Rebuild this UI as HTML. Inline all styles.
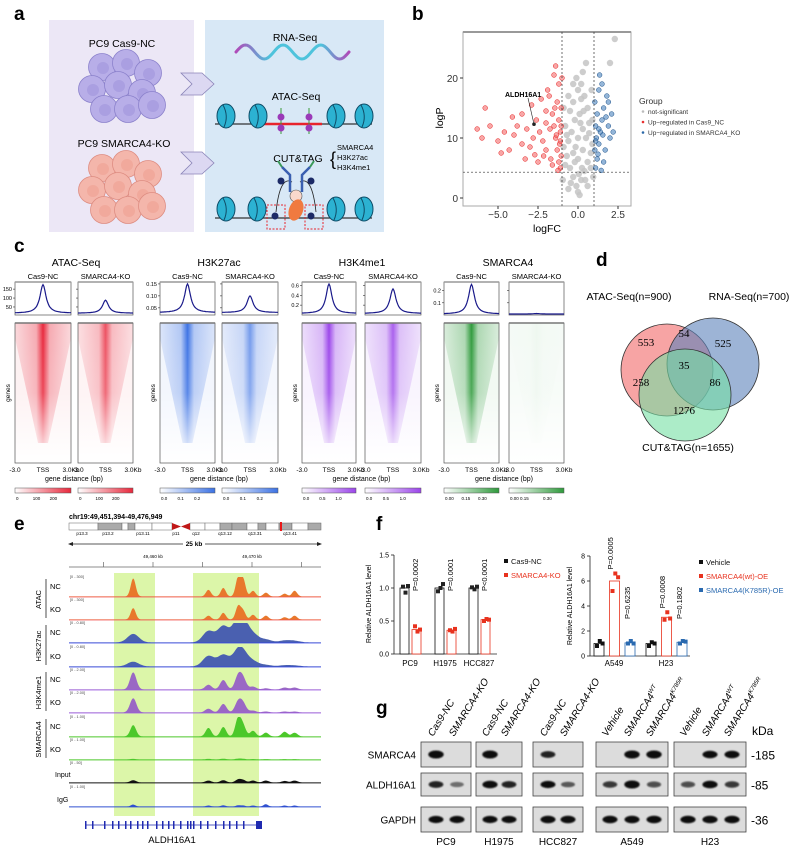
<!DOCTYPE html>
<html><head><meta charset="utf-8"><style>
html,body{margin:0;padding:0;background:#fff;}
svg{display:block;font-family:"Liberation Sans",sans-serif;}
</style></head><body>
<svg id="fig" width="798" height="847" viewBox="0 0 798 847" xmlns="http://www.w3.org/2000/svg">
<defs>
<linearGradient id="waveg" x1="0" x2="1" y1="0" y2="0"><stop offset="0" stop-color="#b04ab8"/><stop offset="0.3" stop-color="#4ec3dc"/><stop offset="0.75" stop-color="#4ec3dc"/><stop offset="1" stop-color="#b04ab8"/></linearGradient>
<linearGradient id="fadev" x1="0" x2="0" y1="0" y2="1"><stop offset="0" stop-color="#fff" stop-opacity="0"/><stop offset="0.5" stop-color="#fff" stop-opacity="0.15"/><stop offset="1" stop-color="#fff" stop-opacity="1"/></linearGradient>
<filter id="blur1" x="-50%" y="-50%" width="200%" height="200%"><feGaussianBlur stdDeviation="0.9"/></filter>
</defs>

<g>
<text x="14" y="20" font-size="19" font-weight="bold">a</text>
<rect x="49" y="20" width="145" height="212" fill="#ece7f6"/>
<rect x="205" y="20" width="179" height="212" fill="#d8e8f6"/>
<text x="122" y="47" font-size="10.5" text-anchor="middle">PC9 Cas9-NC</text>
<text x="124" y="147" font-size="10.5" text-anchor="middle">PC9 SMARCA4-KO</text>
<g id="cellsNC"></g>
<g id="cellsKO"></g>
<polygon points="181,73 202,73 214,84 202,95 181,95 192,84" fill="#dcd8f2" stroke="#8a84b8" stroke-width="0.8"/>
<polygon points="181,152 202,152 214,163 202,174 181,174 192,163" fill="#dcd8f2" stroke="#8a84b8" stroke-width="0.8"/>
<text x="295" y="41" font-size="10.5" text-anchor="middle">RNA-Seq</text>
<path id="wave" d="" fill="none" stroke="url(#waveg)" stroke-width="3" stroke-linecap="round"/>
<text x="296" y="100" font-size="10.5" text-anchor="middle">ATAC-Seq</text>
<g id="atacDiag"></g>
<text x="298" y="162" font-size="10.5" text-anchor="middle">CUT&amp;TAG</text>
<text x="330" y="165" font-size="18" font-weight="200">{</text>
<text x="337" y="150" font-size="7.5">SMARCA4</text>
<text x="337" y="160" font-size="7.5">H3K27ac</text>
<text x="337" y="170" font-size="7.5">H3K4me1</text>
<g id="cutDiag"></g>
</g>

<g id="panelB">
<text x="412" y="20" font-size="19" font-weight="bold">b</text>
</g>
<g id="panelC">
<text x="14" y="252" font-size="19" font-weight="bold">c</text>
</g>
<g id="panelD">
<text x="596" y="266" font-size="19" font-weight="bold">d</text>
</g>
<g id="panelE">
<text x="14" y="530" font-size="19" font-weight="bold">e</text>
</g>
<g id="panelF">
<text x="376" y="530" font-size="19" font-weight="bold">f</text>
</g>
<g id="panelG">
<text x="376" y="714" font-size="19" font-weight="bold">g</text>
</g>
</svg>

<script>
const grayFC=[0,0.1,-0.1,0.2,-0.3,0.4,-0.5,0.6,-0.7,0.8,-0.9,0.9,-0.6,0.5,-0.4,0.3,-0.8,0.7,-0.2,0.1,-0.5,0.6,-0.3,0.4,0,0.2,-0.1,0.3,0.5,2.3,2.0,-0.95,0.95,-0.6,0.6,0.3,-0.3,0.8,-0.8,0,0,0.15,-0.6,0.9,-0.9,0.2,-0.3,0.85,0.45,-0.45,0.05,-0.2,0.25,-0.7,0.7,-0.15,0.35];
const grayP=[1,0.5,2,3,3.5,4.5,5,6,7,7.5,8.5,9,9.5,10,11,11.5,12,12.5,13,14,14.5,15,16,17,18,19,20,21,22.5,26.5,22.5,3,3.5,1.5,2,8,7.5,5,5.5,6.5,10,12.5,17,13,15,16.5,19,18,3,2.5,4,6,5,10.5,10.8,8.5,14.5];
const redFC=[-1.1,-1.2,-1.05,-1.3,-1.15,-1.4,-1.1,-1.5,-1.2,-1.6,-1.05,-1.3,-1.8,-1.2,-1.0,-1.7,-2.0,-2.2,-2.4,-2.0,-2.6,-2.8,-3.0,-3.2,-3.5,-3.8,-4.0,-4.3,-4.6,-5.0,-5.5,-6.0,-6.3,-5.8,-3.5,-2.9,-2.3,-1.9,-1.5,-1.6,-2.5,-3.3,-4.8,-1.4,-2.0,-1.25,-2.7,-4.1,-1.1,-1.35,-1.75,-2.15,-1.05,-1.45];
const redP=[5,6,7,8,9,10,11,12,13,14,15,16,17,19,20,6.5,8,9.5,11,12.5,13,10,8.5,11.5,9,12,10.5,8,11,9.5,12,10,11.5,15,14,15.5,16.5,18,20.5,5.5,6,6.5,7.5,22,14.5,4.6,7.2,13.5,9.5,10.5,11.5,7,12,15];
const blueFC=[1.1,1.2,1.05,1.3,1.15,1.4,1.1,1.5,1.2,1.6,1.05,1.8,1.3,1.9,2.0,1.7,2.1,1.5,1.35,1.9,2.2,1.6,1.25,1.45,1.75,1.1,1.3,1.55];
const blueP=[5,6.5,8,9,10,11,12,13,14,15,16,17,18,12,10,8,14,19,20.5,16,11,6,7.3,4.6,13.5,9.5,11.5,10.5];
const xTicksB=[-5.0,-2.5,0.0,2.5];
const yTicksB=[0,10,20];
const labelGene={fc:-2.75,p:12.3,name:"ALDH16A1"};

const marks=["ATAC-Seq","H3K27ac","H3K4me1","SMARCA4"];
const profilePeakNC=[175,0.15,0.63,0.25];
const profilePeakKO=[88,0.10,0.53,0.012];
const profileBase=[15,0.03,0.03,0.008];
const profileDomain=[[5,190],[0.02,0.158],[0,0.67],[0,0.27]];
const profileTicks=[["50","100","150"],["0.05","0.10","0.15"],["0.2","0.4","0.6"],["0.1","0.2"]];
const heatIntensityKO=[0.8,0.7,0.85,0.04];
const cbarTicks=[["0","100","200"],["0.0","0.1","0.2"],["0.0","0.5","1.0"],["0.00","0.15","0.30"]];
const cbarTicksKO=[["0","100","200"],["0.0","0.1","0.2"],["0.0","0.5","1.0"],["0.00 0.15","","0.30"]];

const vennCounts=[553,54,525,35,258,86,1276];

const peakKb=[49458.0,49465.6,49467.1,49468.6,49469.1,49470.1,49471.4,49473.3,49474.3];
const trackRanges=["[0 - 300]","[0 - 300]","[0 - 0.80]","[0 - 0.80]","[0 - 2.00]","[0 - 2.00]","[0 - 1.00]","[0 - 1.00]","[0 - 50]","[0 - 1.00]"];
const tATACnc=[0.95,0.35,0.45,1.0,0.9,0.3,0.2,0.15,0.3];
const tATACko=[0.6,0.2,0.35,0.7,0.45,0.25,0.2,0.12,0.2];
const tK27nc=[0.45,0.6,0.85,1.0,0.75,0.4,0.15,0.1,0.08];
const tK27ko=[0.25,0.55,0.6,0.7,0.45,0.25,0.08,0.06,0.05];
const tK4nc=[0.9,0.25,0.5,0.7,0.55,0.15,0.06,0.1,0.1];
const tK4ko=[0.75,0.2,0.45,0.55,0.45,0.1,0.05,0.05,0.05];
const tSMnc=[0.6,0.45,0.5,0.95,0.55,0.3,0.2,0.25,0.2];
const tSMko=[0.03,0.03,0.04,0.04,0.03,0.02,0.02,0.02,0.02];
const tInput=[0.12,0.1,0.12,0.15,0.12,0.1,0.1,0.08,0.1];
const tIgG=[0.1,0.05,0.06,0.06,0.05,0.05,0.12,0.05,0.05];

const cellsL=["PC9","H1975","HCC827"];
const ncVals=[1.0,1.0,1.0];
const koVals=[0.37,0.36,0.52];
const ncReps=[[1.02,0.93,1.03],[0.95,1.0,1.06],[1.01,0.98,1.02]];
const koReps=[[0.42,0.34,0.37],[0.36,0.34,0.38],[0.5,0.53,0.52]];
const pL=["P=0.0002","P=0.0001","P<0.0001"];
const yTicksL=["0.0","0.5","1.0","1.5"];
const cellsR=["A549","H23"];
const vehVals=[1.0,1.0];
const wtVals=[6.0,3.1];
const mutVals=[1.05,1.1];
const vehReps=[[0.8,1.2,1.0],[0.8,1.1,1.0]];
const wtReps=[[5.2,6.6,6.3],[2.9,3.5,3.0]];
const mutReps=[[1.0,1.2,1.0],[1.0,1.2,1.15]];
const pWT=["P=0.0005","P=0.0008"];
const pMut=["P=0.6235","P=0.1802"];
const yTicksR=[0,2,4,6,8];

const blotGroups=["PC9","H1975","HCC827","A549","H23"];
const smarca4Band=[1,0,1,0,0.7,0, 0,1,1, 0,0.85,0.85];
const aldhBand=[0.7,0.3,0.9,0.7,0.8,0.4, 0.6,1,0.5, 0.5,0.9,0.6];
const gapdhBand=[0.8,0.8,0.8,0.8,0.85,0.85, 0.85,0.85,0.85, 0.9,0.9,0.9];

const NS='http://www.w3.org/2000/svg';
const svg=document.getElementById('fig');
function mk(tag,attrs,parent){const e=document.createElementNS(NS,tag);for(const k in attrs)e.setAttribute(k,attrs[k]);(parent||svg).appendChild(e);return e;}
function tx(x,y,s,attrs,parent){const t=mk('text',Object.assign({x:x,y:y},attrs||{}),parent);t.textContent=s;return t;}

(function(){
  const offs=[[-20,-20],[4,-24],[26,-14],[-30,2],[-4,-2],[20,6],[-18,22],[6,22],[30,18]];
  [['cellsNC',122,87,'#b8aee8','#8c82cc','#a095dc'],['cellsKO',122,188,'#f4b6ab','#de8d82','#eea092']].forEach(c=>{
    const g=document.getElementById(c[0]);
    offs.forEach(o=>{
      const ce=mk('circle',{cx:c[1]+o[0],cy:c[2]+o[1],r:13.5,fill:c[3],stroke:c[4],'stroke-width':0.8},g);
      
      
      mk('circle',{cx:c[1]+o[0]+1,cy:c[2]+o[1]+1,r:6,fill:c[5],opacity:0.6},g);
    });
  });
  let d='';for(let i=0;i<=60;i++){const x=236+i*113/60;const y=52-7*Math.sin(i/60*Math.PI*6);d+=(i?'L':'M')+x.toFixed(1)+','+y.toFixed(1);}
  document.getElementById('wave').setAttribute('d',d);
  function nuc(g,x,y){const n=mk('ellipse',{cx:x,cy:y,rx:9,ry:12,fill:'#2cb2d2',stroke:'#0f4d68','stroke-width':1},g);
    
    mk('path',{d:`M${x-3},${y-11} Q${x+3},${y} ${x-2},${y+11}`,stroke:'#0f4d68',fill:'none','stroke-width':1},g);}
  const a=document.getElementById('atacDiag');
  mk('line',{x1:215,y1:124,x2:372,y2:124,stroke:'#333','stroke-width':1.2},a);
  mk('line',{x1:262,y1:124,x2:322,y2:124,stroke:'#e8242c','stroke-width':2.5},a);
  [226,258,336,364].forEach(x=>nuc(a,x,116));
  [281,309].forEach(x=>{mk('line',{x1:x,y1:108,x2:x,y2:134,stroke:'#3a9a3a','stroke-width':1},a);mk('circle',{cx:x,cy:117,r:3.5,fill:'#9a3ab8'},a);mk('circle',{cx:x,cy:128,r:3.5,fill:'#9a3ab8'},a);});
  const c=document.getElementById('cutDiag');
  mk('line',{x1:215,y1:218,x2:372,y2:218,stroke:'#333','stroke-width':1.2},c);
  [226,257,336,364].forEach(x=>nuc(c,x,209));
  mk('path',{d:'M276,212 Q280,175 292,182 M316,212 Q312,175 300,182',stroke:'#222',fill:'none','stroke-width':0.8},c);
  mk('path',{d:'M290,192 L290,175 L282,167 M302,192 L302,175 L310,167',stroke:'#3a5fb0',fill:'none','stroke-width':2.5},c);
  mk('path',{d:'M282,167 L278,161 M310,167 L314,161',stroke:'#3a9a5a',fill:'none','stroke-width':2},c);
  mk('circle',{cx:296,cy:196,r:6,fill:'#f9d8cc',stroke:'#555','stroke-width':0.6},c);
  mk('ellipse',{cx:296,cy:210,rx:7,ry:11,fill:'#f07a40',transform:'rotate(20 296 210)'},c);
  [[281,181],[311,181],[275,216],[311,216]].forEach(p=>mk('circle',{cx:p[0],cy:p[1],r:3.5,fill:'#1c2a66'},c));
  mk('rect',{x:267,y:205,width:18,height:24,fill:'none',stroke:'#e8242c','stroke-width':1,'stroke-dasharray':'2,1.5'},c);
  mk('rect',{x:305,y:205,width:18,height:24,fill:'none',stroke:'#e8242c','stroke-width':1,'stroke-dasharray':'2,1.5'},c);
})();

(function(){
  const g=document.getElementById('panelB');
  const X0=463,X1=631,Y0=32,Y1=206;
  const xs=v=>578+v*16, ys=v=>198-v*6;
  const bg=mk('rect',{x:X0,y:Y0,width:X1-X0,height:Y1-Y0,fill:'#fff',stroke:'#aaa','stroke-width':1},g);
  
  
  mk('line',{x1:X0,y1:Y0,x2:X1,y2:Y0,stroke:'#999','stroke-width':2},g);
  grayFC.forEach((v,i)=>{const p=mk('circle',{cx:xs(v),cy:ys(grayP[i]),r:3.2,fill:'#c4c4c4','fill-opacity':0.85},g);
    });
  redFC.forEach((v,i)=>{const p=mk('circle',{cx:xs(v),cy:ys(redP[i]),r:2.4,fill:'#f25c5c','fill-opacity':0.55,stroke:'#e82020','stroke-width':0.5},g);
    });
  blueFC.forEach((v,i)=>{const p=mk('circle',{cx:xs(v),cy:ys(blueP[i]),r:2.4,fill:'#3a78b8','fill-opacity':0.55,stroke:'#1a4f88','stroke-width':0.5},g);
    });
  [xs(-1),xs(1)].forEach(x=>mk('line',{x1:x,y1:Y0,x2:x,y2:Y1,stroke:'#333','stroke-width':0.7,'stroke-dasharray':'2,2'},g));
  mk('line',{x1:X0,y1:ys(4.3),x2:X1,y2:ys(4.3),stroke:'#333','stroke-width':0.7,'stroke-dasharray':'2,2'},g);
  const gp=mk('circle',{cx:xs(labelGene.fc),cy:ys(labelGene.p),r:1.8,fill:'#222'},g);
  
  mk('line',{x1:xs(labelGene.fc),y1:ys(labelGene.p),x2:xs(labelGene.fc)-6,y2:98,stroke:'#222','stroke-width':0.6},g);
  const gl=tx(505,97,labelGene.name,{'font-size':7,'font-weight':'bold'},g);
  
  xTicksB.forEach(v=>{mk('line',{x1:xs(v),y1:Y1,x2:xs(v),y2:Y1+3,stroke:'#333'},g);
    const t=tx(xs(v),218,v.toFixed(1).replace('-','−'),{'font-size':10,'text-anchor':'middle','fill':'#333'},g);
    });
  yTicksB.forEach(v=>{mk('line',{x1:X0-3,y1:ys(v),x2:X0,y2:ys(v),stroke:'#333'},g);
    const t=tx(X0-5,ys(v)+4,String(v),{'font-size':10,'text-anchor':'end','fill':'#333'},g);
    });
  const xt=tx(547,232,'logFC',{'font-size':10.5,'text-anchor':'middle'},g);
  
  const yt=tx(443,118,'logP',{'font-size':10.5,'text-anchor':'middle',transform:'rotate(-90 443 118)'},g);
  
  const lg=tx(639,104,'Group',{'font-size':8.5,fill:'#333'},g);
  
  [['not-significant','#bbb'],['Up−regulated in Cas9_NC','#e83030'],['Up−regulated in SMARCA4_KO','#2a68a8']].forEach((e,i)=>{
    const y=114+i*10.5;
    mk('circle',{cx:643,cy:y-2.5,r:1.3,fill:e[1]},g);
    const t=tx(648,y,e[0],{'font-size':6.5,fill:'#333'},g);
    });
})();

(function(){
  const g=document.getElementById('panelC');
  const colors=['#e8283c','#3c72e4','#9b45ea','#2f9a3c'];
  const boxes=[[15,71],[78,133],[160,215],[222,278],[302,356],[365,421],[444,499],[509,564]];
  const titleX=[76,219,362,508];
  const defs=svg.querySelector('defs');
  marks.forEach((m,k)=>{
    const t=tx(titleX[k],266,m,{'font-size':10.5,'text-anchor':'middle'},g);
    
    [0,1].forEach(j=>{
      const b=boxes[k*2+j], x0=b[0], x1=b[1], w=x1-x0, cx=(x0+x1)/2;
      const s=j?heatIntensityKO[k]:1;
      const peak=j?profilePeakKO[k]:profilePeakNC[k];
      const st=tx(cx,279,j?'SMARCA4-KO':'Cas9-NC',{'font-size':7.5,'text-anchor':'middle'},g);
      
      const PY0=282,PY1=315,dom=profileDomain[k];
      const py=v=>PY1-(v-dom[0])/(dom[1]-dom[0])*(PY1-PY0);
      mk('rect',{x:x0,y:PY0,width:w,height:PY1-PY0,fill:'#fff',stroke:'#555','stroke-width':0.7},g);
      mk('line',{x1:x0,y1:PY0,x2:x1,y2:PY0,stroke:'#999','stroke-width':1.5},g);
      let d='';for(let i=0;i<=60;i++){const r=(i-30)/30;const v=profileBase[k]+(peak-profileBase[k])/(1+Math.pow(r/0.13,2));d+=(i?'L':'M')+(x0+i*w/60).toFixed(1)+','+py(v).toFixed(1);}
      const pl=mk('path',{d:d,fill:'none',stroke:'#1a1a8a','stroke-width':1.2},g);
      
      profileTicks[k].forEach(tk=>{const y=py(parseFloat(tk));mk('line',{x1:x0-2,y1:y,x2:x0,y2:y,stroke:'#333','stroke-width':0.6},g);
        if(!j)tx(x0-3,y+2,tk,{'font-size':5.5,'text-anchor':'end'},g);});
      const HY0=323,HY1=463;
      const gid='hg'+k+'_'+j;
      const lgd=mk('linearGradient',{id:gid,x1:0,x2:1,y1:0,y2:0},defs);
      [[0,0.12],[0.38,0.35],[0.5,1],[0.62,0.35],[1,0.12]].forEach(p=>mk('stop',{offset:p[0],'stop-color':colors[k],'stop-opacity':(p[1]*s).toFixed(3)},lgd));
      mk('rect',{x:x0,y:HY0,width:w,height:HY1-HY0,fill:colors[k],'fill-opacity':0.04+0.03*s,stroke:'none'},g);
      const hm=mk('polygon',{points:`${x0},${HY0} ${x1},${HY0} ${x1},${HY0+15} ${cx+5},${HY1-20} ${cx-5},${HY1-20} ${x0},${HY0+15}`,fill:`url(#${gid})`},g);
      
      mk('rect',{x:x0,y:HY0,width:w,height:HY1-HY0,fill:'url(#fadev)'},g);
      mk('rect',{x:x0,y:HY0,width:w,height:HY1-HY0,fill:'none',stroke:'#555','stroke-width':0.7},g);
      mk('line',{x1:x0,y1:HY0,x2:x1,y2:HY0,stroke:'#777','stroke-width':1.5},g);
      tx(x0,472,'-3.0',{'font-size':6.5,'text-anchor':'middle'},g);
      tx(cx,472,'TSS',{'font-size':6.5,'text-anchor':'middle'},g);
      tx(x1,472,'3.0Kb',{'font-size':6.5,'text-anchor':'middle'},g);
      const cg='cb'+k+'_'+j;
      const cl=mk('linearGradient',{id:cg,x1:0,x2:1,y1:0,y2:0},defs);
      mk('stop',{offset:0,'stop-color':'#fff'},cl);mk('stop',{offset:1,'stop-color':colors[k]},cl);
      const cb=mk('rect',{x:x0,y:488,width:w,height:5,fill:`url(#${cg})`,stroke:'#555','stroke-width':0.5},g);
      
      (j?cbarTicksKO:cbarTicks)[k].forEach((tk,i)=>{if(tk)tx(x0+1+i*w*0.3,500,tk,{'font-size':4.5},g);});
    });
    const gd=tx((boxes[k*2][0]+boxes[k*2+1][1])/2,481,'gene distance (bp)',{'font-size':7,'text-anchor':'middle'},g);
    
    const gx=boxes[k*2][0]-5;
    const ge=tx(gx,393,'genes',{'font-size':6.5,'text-anchor':'middle',transform:`rotate(-90 ${gx} 393)`},g);
    
  });
})();

(function(){
  const g=document.getElementById('panelD');
  [[667,370,'#f26868'],[713,364,'#5b82ba'],[685,395,'#74e0a4']].forEach((c,i)=>{
    const ci=mk('circle',{cx:c[0],cy:c[1],r:46,fill:c[2],'fill-opacity':0.6,stroke:'#333','stroke-width':0.8},g);
    
    });
  const pos=[[646,346],[684,337],[723,347],[684,369],[641,386],[715,386],[684,414]];
  vennCounts.forEach((v,i)=>{const t=tx(pos[i][0],pos[i][1],String(v),{'font-size':11,'text-anchor':'middle','font-family':'Liberation Serif, serif'},g);
    });
  const a=tx(629,300,'ATAC-Seq(n=900)',{'font-size':10.5,'text-anchor':'middle'},g);
  
  const r=tx(749,300,'RNA-Seq(n=700)',{'font-size':10.5,'text-anchor':'middle'},g);
  
  const c=tx(688,451,'CUT&TAG(n=1655)',{'font-size':10.5,'text-anchor':'middle'},g);
  
})();

(function(){
  const g=document.getElementById('panelE');
  const xk=kb=>153+(kb-49460)*9.9;
  const tt=tx(69,519,'chr19:49,451,394-49,476,949',{'font-size':7,'font-weight':'bold'},g);
  
  const bands=[[69,98,'#fff'],[98,122,'#aaa'],[122,128,'#fff'],[128,135,'#aaa'],[135,152,'#fff'],[152,172,'#fff'],[190,205,'#fff'],[205,220,'#fff'],[220,232,'#aaa'],[232,247,'#aaa'],[247,258,'#fff'],[258,266,'#aaa'],[266,279,'#fff'],[279,292,'#aaa'],[292,308,'#fff'],[308,321,'#aaa']];
  bands.forEach(b=>mk('rect',{x:b[0],y:523,width:b[1]-b[0],height:7,fill:b[2],stroke:'#666','stroke-width':0.5},g));
  mk('polygon',{points:'172,523 181,526.5 172,530',fill:'#c01818'},g);
  mk('polygon',{points:'190,523 181,526.5 190,530',fill:'#c01818'},g);
  mk('rect',{x:280,y:522,width:2,height:9,fill:'#e81818'},g);
  [['p13.3',82],['p13.2',108],['p13.11',143],['p11',176],['q12',196],['q13.12',225],['q13.31',255],['q13.41',290]].forEach(b=>tx(b[1],535,b[0],{'font-size':4.5,'text-anchor':'middle'},g));
  mk('line',{x1:70,y1:544,x2:320,y2:544,stroke:'#222','stroke-width':0.7},g);
  mk('polygon',{points:'68,544 73,542 73,546',fill:'#222'},g);
  mk('polygon',{points:'322,544 317,542 317,546',fill:'#222'},g);
  mk('rect',{x:183,y:539,width:22,height:9,fill:'#fff'},g);
  tx(194,546,'25 kb',{'font-size':6.5,'font-weight':'bold','text-anchor':'middle'},g);
  mk('line',{x1:69,y1:567,x2:321,y2:567,stroke:'#666','stroke-width':0.7},g);
  [49455,49460,49465,49470,49475].forEach(v=>mk('line',{x1:xk(v),y1:562,x2:xk(v),y2:567,stroke:'#666','stroke-width':0.7},g));
  tx(xk(49460),558,'49,460 kb',{'font-size':4.5,'text-anchor':'middle'},g);
  tx(xk(49470),558,'49,470 kb',{'font-size':4.5,'text-anchor':'middle'},g);
  [[114,155],[193,259]].forEach(h=>{const r=mk('rect',{x:h[0],y:573,width:h[1]-h[0],height:243,fill:'#d6f59a','fill-opacity':0.85},g);
    });
  const data=[tATACnc,tATACko,tK27nc,tK27ko,tK4nc,tK4ko,tSMnc,tSMko,tInput,tIgG];
  const fills=['#e8782c','#e8782c','#4a60b0','#4a60b0','#9a68c4','#9a68c4','#4cc82a','#4cc82a','#111','#3050d0'];
  const lines=['#f05050','#f05050','#3040e8','#3040e8','#9a58e0','#9a58e0','#4cc82a','#4cc82a','#111','#3050d0'];
  const widths=[0.35,0.35,0.8,0.8,0.45,0.45,0.4,0.4,0.4,0.3];
  const base=[597,620,643,667,690,713,737,760,783,807];
  data.forEach((arr,ti)=>{
    const y0=base[ti];
    let d=`M69,${y0}`;
    for(let x=69;x<=321;x+=1){
      const kb=49460+(x-153)/9.9;let v=0.03;
      arr.forEach((h,i)=>{const dz=(kb-peakKb[i])/widths[ti];v+=h*Math.exp(-dz*dz);});
      d+=`L${x},${(y0-Math.min(v,1.05)*19).toFixed(1)}`;
    }
    d+=`L321,${y0}Z`;
    const p=mk('path',{d:d,fill:fills[ti]},g);
    
    mk('line',{x1:69,y1:y0,x2:321,y2:y0,stroke:lines[ti],'stroke-width':0.8},g);
    tx(70,y0-19,trackRanges[ti],{'font-size':3.8,fill:'#444'},g);
  });
  ['NC','KO','NC','KO','NC','KO','NC','KO'].forEach((s,i)=>tx(50,base[i]-8,s,{'font-size':7.5},g));
  [['ATAC',597,620],['H3K27ac',643,667],['H3K4me1',690,713],['SMARCA4',737,760]].forEach(l=>{
    mk('line',{x1:46,y1:l[1]-18,x2:46,y2:l[2]-2,stroke:'#222','stroke-width':0.8},g);
    const my=(l[1]+l[2])/2-9;
    const t=tx(41,my,l[0],{'font-size':7.5,'text-anchor':'middle',transform:`rotate(-90 41 ${my})`},g);
    });
  tx(55,777,'Input',{'font-size':7},g);
  tx(57,802,'IgG',{'font-size':7},g);
  mk('line',{x1:85,y1:825,x2:262,y2:825,stroke:'#1f2ab0','stroke-width':0.8},g);
  [85,92,104,112,118,125,130,137,142,147,156,162,168,173,180,187,190,193,200,207,215,223,229,236,243].forEach(x=>mk('rect',{x:x,y:821,width:1.5,height:8,fill:'#1f2ab0'},g));
  mk('rect',{x:256,y:821,width:6,height:8,fill:'#1f2ab0'},g);
  const gn=tx(172,843,'ALDH16A1',{'font-size':9.5,'text-anchor':'middle'},g);
  
})();

(function(){
  const g=document.getElementById('panelF');
  const RED='#e8321e',BLUE='#2a6ab0';
  const yl=v=>654-v*66;
  mk('line',{x1:394,y1:yl(0),x2:394,y2:yl(1.5),stroke:'#222','stroke-width':0.8},g);
  mk('line',{x1:394,y1:yl(0),x2:497,y2:yl(0),stroke:'#222','stroke-width':0.8},g);
  yTicksL.forEach(t=>{const y=yl(parseFloat(t));mk('line',{x1:391,y1:y,x2:394,y2:y,stroke:'#222','stroke-width':0.8},g);
    const l=tx(389,y+2.5,t,{'font-size':7,'text-anchor':'end'},g);});
  const ylt=tx(371,604,'Relative ALDH16A1 level',{'font-size':7,'text-anchor':'middle',transform:'rotate(-90 371 604)'},g);
  
  const lx=[400,435,469];
  cellsL.forEach((c,i)=>{
    const b1=mk('rect',{x:lx[i],y:yl(ncVals[i]),width:9,height:ncVals[i]*66,fill:'#fff',stroke:'#111','stroke-width':0.8},g);
    
    const b2=mk('rect',{x:lx[i]+12,y:yl(koVals[i]),width:9,height:koVals[i]*66,fill:'#fff',stroke:RED,'stroke-width':0.8},g);
    
    ncReps[i].forEach((v,r)=>{const p=mk('rect',{x:lx[i]+1+r*2.5,y:yl(v)-2,width:4,height:4,fill:'#222'},g);});
    koReps[i].forEach((v,r)=>{const p=mk('rect',{x:lx[i]+13+r*2.5,y:yl(v)-2,width:4,height:4,fill:RED},g);});
    const xl=tx(lx[i]+10,666,c,{'font-size':8,'text-anchor':'middle'},g);
    const px=lx[i]+18;
    const pt=tx(px,591,pL[i],{'font-size':7.5,transform:`rotate(-90 ${px} 591)`},g);
  });
  [['Cas9-NC','#111'],['SMARCA4-KO',RED]].forEach((e,i)=>{const y=564+i*14;mk('rect',{x:504,y:y-5,width:4,height:4,fill:e[1]},g);
    const t=tx(511,y,e[0],{'font-size':7.5,fill:e[1]},g);});
  const yr=v=>656-v*12.5;
  mk('line',{x1:590,y1:yr(0),x2:590,y2:yr(8),stroke:'#222','stroke-width':0.8},g);
  mk('line',{x1:590,y1:yr(0),x2:690,y2:yr(0),stroke:'#222','stroke-width':0.8},g);
  yTicksR.forEach(t=>{const y=yr(t);mk('line',{x1:587,y1:y,x2:590,y2:y,stroke:'#222','stroke-width':0.8},g);
    const l=tx(585,y+2.5,String(t),{'font-size':7,'text-anchor':'end'},g);});
  const yrt=tx(572,606,'Relative ALDH16A1 level',{'font-size':7,'text-anchor':'middle',transform:'rotate(-90 572 606)'},g);
  
  const rx=[594,646];
  cellsR.forEach((c,i)=>{
    [[vehVals,vehReps,'#111','bar-vehicle'],[wtVals,wtReps,RED,'bar-smarca4-wt'],[mutVals,mutReps,BLUE,'bar-smarca4-k785r']].forEach((s,j)=>{
      const x=rx[i]+j*15.5;
      const b=mk('rect',{x:x,y:yr(s[0][i]),width:10,height:s[0][i]*12.5,fill:'#fff',stroke:s[2],'stroke-width':0.8},g);
      
      s[1][i].forEach((v,r)=>{const p=mk('rect',{x:x+1+r*2.8,y:yr(v)-2,width:4,height:4,fill:s[2]},g);});
    });
    const xl=tx(rx[i]+20,666,c,{'font-size':8,'text-anchor':'middle'},g);
    const p1x=rx[i]+19, p1y=yr(Math.max(...wtReps[i]))-4;
    const p1=tx(p1x,p1y,pWT[i],{'font-size':7.5,transform:`rotate(-90 ${p1x} ${p1y})`},g);
    const p2x=rx[i]+36, p2y=yr(Math.max(...mutReps[i]))-22;
    const p2=tx(p2x,p2y,pMut[i],{'font-size':7.5,transform:`rotate(-90 ${p2x} ${p2y})`},g);
  });
  [['Vehicle','#111'],['SMARCA4(wt)-OE',RED],['SMARCA4(K785R)-OE',BLUE]].forEach((e,i)=>{const y=565+i*14;mk('rect',{x:699,y:y-5,width:4,height:4,fill:e[1]},g);
    const t=tx(706,y,e[0],{'font-size':7.5,fill:e[1]},g);});
})();

(function(){
  const g=document.getElementById('panelG');
  const boxX=[[421,471],[476,522],[533,583],[596,668],[674,746]];
  const lanes=[436,457,490,509,548,568,610,632,654,688,710,732];
  const labels=[['Cas9-NC',''],['SMARCA4-KO',''],['Cas9-NC',''],['SMARCA4-KO',''],['Cas9-NC',''],['SMARCA4-KO',''],['Vehicle',''],['SMARCA4','WT'],['SMARCA4','K785R'],['Vehicle',''],['SMARCA4','WT'],['SMARCA4','K785R']];
  const rows=[['SMARCA4',742,767,smarca4Band,'-185'],['ALDH16A1',773,796,aldhBand,'-85'],['GAPDH',807,832,gapdhBand,'-36']];
  rows.forEach(r=>{
    boxX.forEach(b=>{const bx=mk('rect',{x:b[0],y:r[1],width:b[1]-b[0],height:r[2]-r[1],fill:'#dcdcdc',stroke:'#444','stroke-width':0.8},g);
      });
    const cy=(r[1]+r[2])/2;
    r[3].forEach((v,i)=>{if(v<=0.02)return;
      const band=mk('ellipse',{cx:lanes[i],cy:cy,rx:6.5+v*1.2,ry:2+v*2,fill:'#0a0a0a','fill-opacity':Math.min(1,0.2+v),filter:'url(#blur1)'},g);
      });
    const rl=tx(416,cy+4,r[0],{'font-size':10,'text-anchor':'end'},g);
    
    const kd=tx(751,cy+5,r[4],{'font-size':12},g);
    
  });
  const kt=tx(752,735,'kDa',{'font-size':12},g);
  
  labels.forEach((l,i)=>{
    const x=lanes[i]-3,y=737;
    const t=mk('text',{x:x,y:y,'font-size':10,'font-style':'italic',transform:`rotate(-58 ${x} ${y})`},g);
    t.textContent=l[0];
    if(l[1]){const s=mk('tspan',{'font-size':6,dy:-4},t);s.textContent=l[1];}
    
    
  });
  blotGroups.forEach((c,i)=>{const t=tx((boxX[i][0]+boxX[i][1])/2,845,c,{'font-size':10,'text-anchor':'middle'},g);
    });
})();
</script>
</body></html>
